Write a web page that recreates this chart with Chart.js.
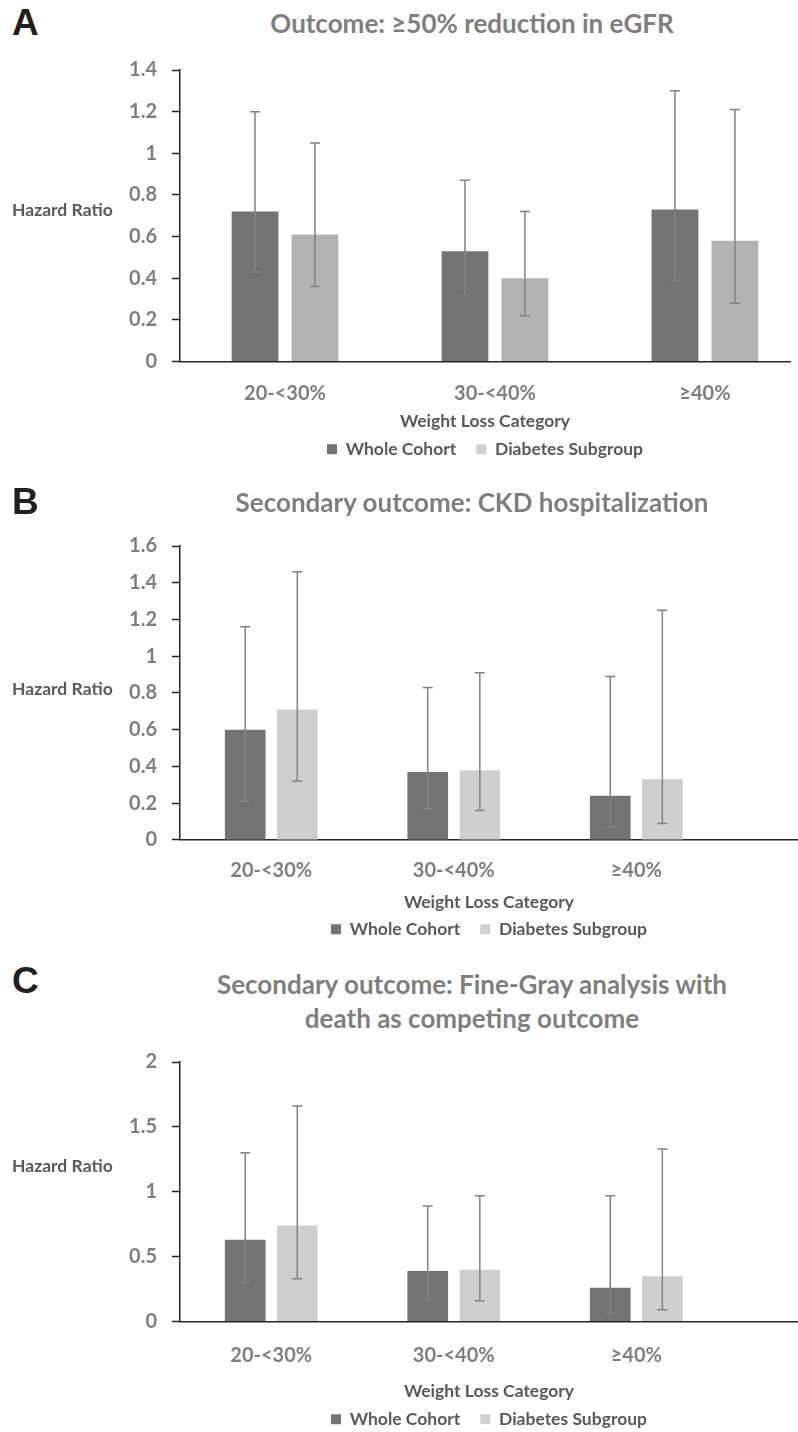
<!DOCTYPE html>
<html lang="en">
<head>
<meta charset="UTF-8"/>
<title>Hazard ratio by weight loss category</title>
<style>
  html, body { margin: 0; padding: 0; background: #fff; overflow: hidden; }
  #page { position: relative; width: 798px; height: 1432px; overflow: hidden; font-family: Lato, 'Open Sans', sans-serif; }
  .letter { position: absolute; left: 12px; font-family: 'Liberation Sans', Arial, sans-serif; font-weight: bold; font-size: 37px; line-height: 37px; color: #231f20; }
  .title { position: absolute; left: 172px; width: 600px; text-align: center; font-weight: bold; font-size: 26px; line-height: 34px; color: #7f7f7f; }
  .ylab { position: absolute; left: 12px; font-weight: bold; font-size: 17.5px; line-height: 21px; color: #595959; }
  canvas { position: absolute; left: 0; }
</style>
</head>
<body>
<div id="page">
  <canvas id="chartA"></canvas>
  <canvas id="chartB"></canvas>
  <canvas id="chartC"></canvas>

  <div class="letter" style="top:4px">A</div>
  <div class="title" style="top:6px">Outcome: ≥50% reduction in eGFR</div>
  <div class="ylab" style="top:199px">Hazard Ratio</div>

  <div class="letter" style="top:483px">B</div>
  <div class="title" style="top:485px">Secondary outcome: CKD hospitalization</div>
  <div class="ylab" style="top:678px">Hazard Ratio</div>

  <div class="letter" style="top:962px">C</div>
  <div class="title" style="top:967px">Secondary outcome: Fine-Gray analysis with<br>death as competing outcome</div>
  <div class="ylab" style="top:1155px">Hazard Ratio</div>
</div>

<script src="https://cdn.jsdelivr.net/npm/chart.js"></script>
<script>
const categories = ["20-<30%", "30-<40%", "≥40%"];
const seriesNames = ["Whole Cohort", "Diabetes Subgroup"];
const xTitle = "Weight Loss Category";

// A: >=50% reduction in eGFR
const aWhole     = [0.72, 0.53, 0.73];
const aWholeLow  = [0.43, 0.32, 0.39];
const aWholeHigh = [1.20, 0.87, 1.30];
const aDiab      = [0.61, 0.40, 0.58];
const aDiabLow   = [0.36, 0.22, 0.28];
const aDiabHigh  = [1.05, 0.72, 1.21];
const aYMax = 1.4, aYStep = 0.2;

// B: CKD hospitalization
const bWhole     = [0.60, 0.37, 0.24];
const bWholeLow  = [0.21, 0.17, 0.07];
const bWholeHigh = [1.16, 0.83, 0.89];
const bDiab      = [0.71, 0.38, 0.33];
const bDiabLow   = [0.32, 0.16, 0.09];
const bDiabHigh  = [1.46, 0.91, 1.25];
const bYMax = 1.6, bYStep = 0.2;

// C: Fine-Gray, death as competing outcome
const cWhole     = [0.63, 0.39, 0.26];
const cWholeLow  = [0.30, 0.17, 0.06];
const cWholeHigh = [1.30, 0.89, 0.97];
const cDiab      = [0.74, 0.40, 0.35];
const cDiabLow   = [0.33, 0.16, 0.09];
const cDiabHigh  = [1.66, 0.97, 1.33];
const cYMax = 2, cYStep = 0.5;

const DARK = "#737373";
const AXIS = "#262626";
const TICK_GREY = "#7f7f7f";
const LABEL_GREY = "#595959";
const LEGEND_PAD = 20;

// whiskers drawn from each bar's x and the y scale
const errorBars = {
  id: "errorBars",
  afterDatasetsDraw(chart) {
    const ctx = chart.ctx;
    const ys = chart.scales.y;
    ctx.save();
    ctx.strokeStyle = "#828282";
    ctx.lineWidth = 1.5;
    chart.data.datasets.forEach((ds, i) => {
      chart.getDatasetMeta(i).data.forEach((bar, j) => {
        const top = ys.getPixelForValue(ds.high[j]);
        const bot = ys.getPixelForValue(ds.low[j]);
        ctx.beginPath();
        ctx.moveTo(bar.x, top); ctx.lineTo(bar.x, bot);
        ctx.moveTo(bar.x - 5, top); ctx.lineTo(bar.x + 5, top);
        ctx.moveTo(bar.x - 5, bot); ctx.lineTo(bar.x + 5, bot);
        ctx.stroke();
      });
    });
    ctx.restore();
  }
};

function points(vals) {
  return vals.map((v, i) => ({ x: i, y: v }));
}

function makePanel(id, p) {
  const canvas = document.getElementById(id);
  // chart.js: x axis = 2*tick padding + label line + title line + title padding
  const axisH = 2 * p.tickPad + 24 + 21 + p.titleTop + p.titleBottom;
  const legendH = 17.5 + LEGEND_PAD + 10;
  canvas.width = 798;
  canvas.height = Math.round(27 + p.chartH + axisH + legendH);
  canvas.style.top = p.top + "px";

  const font = (size) => ({ family: "Lato", size: size, weight: "bold" });

  return new Chart(canvas, {
    type: "bar",
    data: {
      datasets: [
        { label: seriesNames[0], data: points(p.whole), low: p.wholeLow, high: p.wholeHigh,
          backgroundColor: DARK, categoryPercentage: 0.571, barPercentage: 0.78 },
        { label: seriesNames[1], data: points(p.diab), low: p.diabLow, high: p.diabHigh,
          backgroundColor: p.diabColor, legendColor: "#d0d0d2", categoryPercentage: 0.571, barPercentage: 0.78 }
      ]
    },
    options: {
      responsive: false,
      animation: false,
      layout: { padding: { top: 27, left: 0, right: p.padRight, bottom: 0 } },
      scales: {
        x: {
          type: "linear",
          min: -0.5,
          max: p.xMax,
          offset: false,
          afterBuildTicks: s => { s.ticks = categories.map((c, i) => ({ value: i })); },
          ticks: { callback: v => categories[v], color: TICK_GREY, font: font(20), padding: p.tickPad, autoSkip: false, maxRotation: 0 },
          grid: { drawOnChartArea: false, drawTicks: false, offset: false },
          border: { color: AXIS, width: 1.5 },
          title: { display: true, text: xTitle, color: LABEL_GREY, font: font(17.5),
                   padding: { top: p.titleTop, bottom: p.titleBottom } }
        },
        y: {
          min: 0,
          max: p.yMax,
          ticks: { stepSize: p.yStep, color: TICK_GREY, font: font(20), padding: 15,
                   callback: v => String(Number(v.toFixed(2))) },
          grid: { drawOnChartArea: false, drawTicks: true, tickLength: 8, tickColor: AXIS, tickWidth: 1.5 },
          border: { color: AXIS, width: 1.5 },
          afterFit: s => { s.width = 180; }
        }
      },
      plugins: {
        legend: {
          position: "bottom",
          fullSize: false,
          labels: {
            boxWidth: 10, boxHeight: 10, padding: LEGEND_PAD, color: LABEL_GREY, font: font(17.5),
            generateLabels: chart => Chart.defaults.plugins.legend.labels.generateLabels(chart).map(item => {
              const ds = chart.data.datasets[item.datasetIndex];
              if (ds.legendColor) item.fillStyle = ds.legendColor;
              item.lineWidth = 0;
              return item;
            })
          }
        },
        tooltip: { enabled: false }
      }
    },
    plugins: [errorBars]
  });
}

makePanel("chartA", {
  top: 43, chartH: 292, tickPad: 20, titleTop: -14.8, titleBottom: -11.25,
  padRight: 8, xMax: 2.405,
  yMax: aYMax, yStep: aYStep, diabColor: "#b2b2b3",
  whole: aWhole, wholeLow: aWholeLow, wholeHigh: aWholeHigh,
  diab: aDiab, diabLow: aDiabLow, diabHigh: aDiabHigh
});

makePanel("chartB", {
  top: 519, chartH: 294, tickPad: 19, titleTop: -10.2, titleBottom: -12.25,
  padRight: 0, xMax: 2.886,
  yMax: bYMax, yStep: bYStep, diabColor: "#cfcfd1",
  whole: bWhole, wholeLow: bWholeLow, wholeHigh: bWholeHigh,
  diab: bDiab, diabLow: bDiabLow, diabHigh: bDiabHigh
});

makePanel("chartC", {
  top: 1035, chartH: 260, tickPad: 21.7, titleTop: -8.2, titleBottom: -11.25,
  padRight: 0, xMax: 2.886,
  yMax: cYMax, yStep: cYStep, diabColor: "#cfcfd1",
  whole: cWhole, wholeLow: cWholeLow, wholeHigh: cWholeHigh,
  diab: cDiab, diabLow: cDiabLow, diabHigh: cDiabHigh
});
</script>
</body>
</html>
